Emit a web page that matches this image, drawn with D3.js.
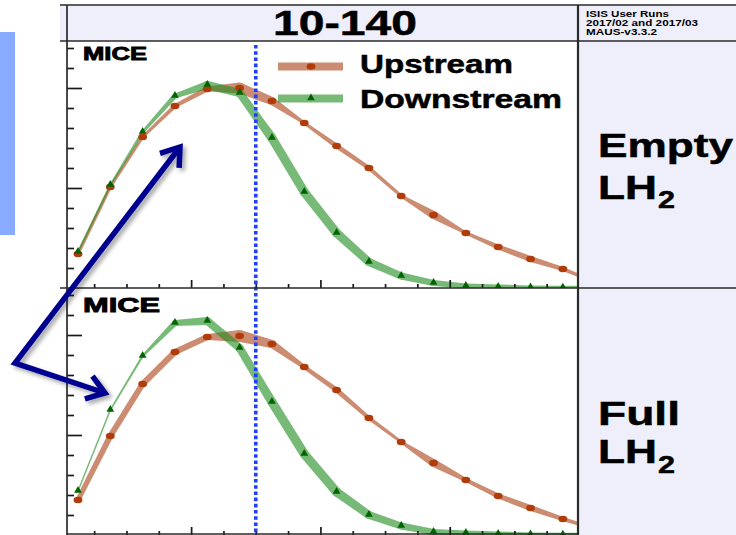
<!DOCTYPE html>
<html>
<head>
<meta charset="utf-8">
<script src="https://cdn.jsdelivr.net/npm/d3@7/dist/d3.min.js"></script>
<style>
  html, body { margin: 0; padding: 0; background: #ffffff; }
  svg { display: block; }
  text { font-family: "Liberation Sans", Arial, Helvetica, sans-serif; font-weight: bold; fill: #000; }
</style>
</head>
<body>
<svg id="chart" width="736" height="535"></svg>
<script>
// ---------------- data ----------------
// amplitude bin centres (mm), 5 mm bins
const binCentres = [2.5, 7.5, 12.5, 17.5, 22.5, 27.5, 32.5, 37.5, 42.5, 47.5, 52.5, 57.5, 62.5, 67.5, 72.5, 77.5, 82.5];

// empty absorber
const emptyUpstream      = [0.34, 1.01, 1.51, 1.82, 1.99, 2.00, 1.87, 1.65, 1.42, 1.20, 0.92, 0.73, 0.55, 0.41, 0.29, 0.19, 0.06];
const emptyUpstreamErr   = [0.015, 0.015, 0.015, 0.02, 0.025, 0.055, 0.04, 0.015, 0.025, 0.02, 0.015, 0.04, 0.015, 0.025, 0.03, 0.02, 0.015];
const emptyDownstream    = [0.36, 1.03, 1.56, 1.92, 2.03, 1.95, 1.50, 0.96, 0.55, 0.26, 0.12, 0.05, 0.02, 0.01, 0.005, 0.003, 0.002];
const emptyDownstreamErr = [0.01, 0.01, 0.015, 0.025, 0.04, 0.04, 0.045, 0.045, 0.045, 0.04, 0.035, 0.03, 0.025, 0.025, 0.02, 0.02, 0.02];

// full absorber
const fullUpstream       = [0.35, 0.99, 1.51, 1.83, 1.98, 1.99, 1.91, 1.68, 1.45, 1.17, 0.93, 0.72, 0.55, 0.39, 0.27, 0.16, 0.06];
const fullUpstreamErr    = [0.025, 0.03, 0.03, 0.03, 0.03, 0.06, 0.04, 0.02, 0.025, 0.02, 0.015, 0.04, 0.02, 0.025, 0.03, 0.02, 0.015];
const fullDownstream     = [0.44, 1.25, 1.79, 2.12, 2.14, 1.87, 1.33, 0.81, 0.43, 0.20, 0.09, 0.03, 0.02, 0.01, 0.005, 0.002, 0.001];
const fullDownstreamErr  = [0.007, 0.008, 0.012, 0.03, 0.04, 0.04, 0.045, 0.045, 0.045, 0.04, 0.035, 0.03, 0.025, 0.025, 0.02, 0.02, 0.02];

const xMinorTicks = [5, 10, 15, 25, 30, 35, 45, 50, 55, 65, 70, 75];
const xMajorTicks = [20, 40, 60];
const yMinorTicks = [0.2, 0.4, 0.6, 0.8, 1.2, 1.4, 1.6, 1.8, 2.2, 2.4];
const yMajorTicks = [1, 2];
const amplitudeCut = 30;

const settingName = "10-140";
const runInfo = ["ISIS User Runs", "2017/02 and 2017/03", "MAUS-v3.3.2"];
const seriesNames = ["Upstream", "Downstream"];
const experiment = "MICE";

// ---------------- layout ----------------
const W = 736, H = 535;
const frameLeft = 60, plotLeft = 67, plotRight = 578;
const headerTop = 5, headerBottom = 41, panelHeight = 247;
const lavender = "#efeffb";
const upColour = "rgb(170,65,20)", downColour = "rgb(30,140,30)";
const upMarker = "#b03c0a", downMarker = "#006400";

const svg = d3.select("#chart");
const defs = svg.append("defs");

const x = d3.scaleLinear().domain([0.8, 80]).range([plotLeft, 579]);

const panels = [
  { top: headerBottom, up: emptyUpstream, upErr: emptyUpstreamErr, down: emptyDownstream, downErr: emptyDownstreamErr, target: "Empty" },
  { top: headerBottom + panelHeight, up: fullUpstream, upErr: fullUpstreamErr, down: fullDownstream, downErr: fullDownstreamErr, target: "Full" }
];

// backgrounds
svg.append("rect").attr("x", frameLeft).attr("y", headerTop).attr("width", W - frameLeft).attr("height", headerBottom - headerTop).attr("fill", lavender);
svg.append("rect").attr("x", plotRight).attr("y", headerBottom).attr("width", W - plotRight).attr("height", H - headerBottom).attr("fill", lavender);
svg.append("rect").attr("x", 0).attr("y", 32).attr("width", 15).attr("height", 203).attr("fill", "#88aaff");

// variable-width ribbon pieces: one quad per segment plus round joints
function ribbonPieces(pts) {
  const pieces = [];
  for (let i = 0; i < pts.length - 1; i++) {
    const a = pts[i], b = pts[i + 1];
    const dx = b.x - a.x, dy = b.y - a.y, L = Math.hypot(dx, dy) || 1;
    const nx = -dy / L, ny = dx / L;
    pieces.push(`M${a.x + nx * a.w},${a.y + ny * a.w}L${b.x + nx * b.w},${b.y + ny * b.w}L${b.x - nx * b.w},${b.y - ny * b.w}L${a.x - nx * a.w},${a.y - ny * a.w}Z`);
  }
  for (let i = 1; i < pts.length - 1; i++) {
    const p = pts[i];
    pieces.push(`M${p.x - p.w},${p.y}a${p.w},${p.w} 0 1,0 ${2 * p.w},0a${p.w},${p.w} 0 1,0 ${-2 * p.w},0Z`);
  }
  return pieces;
}

panels.forEach((p, k) => {
  const bottom = p.top + panelHeight;
  const y = d3.scaleLinear().domain([0, 2.47]).range([bottom, p.top]);
  p.y = y; p.bottom = bottom;

  const clipId = "clip" + k;
  defs.append("clipPath").attr("id", clipId).append("rect")
    .attr("x", plotLeft).attr("y", p.top).attr("width", plotRight - plotLeft).attr("height", panelHeight);

  const g = svg.append("g").attr("clip-path", `url(#${clipId})`);

  const series = [
    { vals: p.up, err: p.upErr, colour: upColour },
    { vals: p.down, err: p.downErr, colour: downColour }
  ];
  series.forEach(s => {
    const pts = binCentres.map((b, i) => ({ x: x(b), y: y(s.vals[i]), w: Math.abs(y(s.err[i]) - y(0)) }));
    g.append("g").attr("opacity", 0.6)
      .selectAll("path").data(ribbonPieces(pts)).join("path")
      .attr("d", d => d).attr("fill", s.colour);
  });

  g.append("g").selectAll("ellipse").data(binCentres.map((b, i) => [b, p.up[i]])).join("ellipse")
    .attr("cx", d => x(d[0])).attr("cy", d => y(d[1])).attr("rx", 4.4).attr("ry", 3.3).attr("fill", upMarker);

  const tri = d3.symbol(d3.symbolTriangle, 26);
  g.append("g").selectAll("path").data(binCentres.map((b, i) => [b, p.down[i]])).join("path")
    .attr("transform", d => `translate(${x(d[0])},${y(d[1]) - 0.5})`).attr("d", tri).attr("fill", downMarker);

  // axes (inward ticks, no labels)
  const axG = svg.append("g").attr("color", "#1a1a1a");
  axG.append("g").attr("transform", `translate(${plotLeft},0)`)
    .call(d3.axisRight(y).tickValues(yMinorTicks).tickSize(7).tickFormat(""));
  axG.append("g").attr("transform", `translate(${plotLeft},0)`)
    .call(d3.axisRight(y).tickValues(yMajorTicks).tickSize(15).tickFormat(""));
  axG.append("g").attr("transform", `translate(0,${bottom})`)
    .call(d3.axisTop(x).tickValues(xMinorTicks).tickSize(4).tickFormat(""));
  axG.append("g").attr("transform", `translate(0,${bottom})`)
    .call(d3.axisTop(x).tickValues(xMajorTicks).tickSize(8).tickFormat(""));
  axG.selectAll(".domain").remove();
  axG.selectAll(".tick line").attr("stroke-width", 1.7);
});

// amplitude cut
svg.append("line")
  .attr("x1", x(amplitudeCut)).attr("x2", x(amplitudeCut)).attr("y1", 45).attr("y2", H)
  .attr("stroke", "#2040ff").attr("stroke-width", 3.6).attr("stroke-dasharray", "3.6,2.6");

// frame
const frame = svg.append("g").attr("stroke", "#2a2a2a").attr("stroke-width", 1.7);
frame.append("line").attr("x1", frameLeft).attr("x2", W).attr("y1", headerTop).attr("y2", headerTop);
frame.append("line").attr("x1", frameLeft).attr("x2", W).attr("y1", headerBottom).attr("y2", headerBottom);
frame.append("line").attr("x1", frameLeft).attr("x2", W).attr("y1", panels[1].top).attr("y2", panels[1].top);
frame.append("line").attr("x1", plotLeft).attr("x2", plotLeft).attr("y1", headerTop).attr("y2", H);
frame.append("line").attr("x1", plotRight).attr("x2", plotRight).attr("y1", headerTop).attr("y2", H).attr("stroke-width", 2.2);
frame.append("line").attr("x1", plotLeft).attr("x2", plotRight).attr("y1", H - 1).attr("y2", H - 1);

// text placed at a left edge and stretched to a given width
function label(str, xLeft, baseline, size, width, extra) {
  const g = svg.append("g");
  const t = g.append("text").attr("font-size", size).text(str);
  if (extra) extra(t);
  const natural = t.node().getComputedTextLength();
  const sx = width / natural;
  g.attr("transform", `translate(${xLeft},${baseline}) scale(${sx},1)`);
  return t;
}
const heavy = t => t.attr("stroke", "#000").attr("stroke-width", 0.5);
const heavier = t => t.attr("stroke", "#000").attr("stroke-width", 0.9);

label(settingName, 273, 35, 35, 144, heavy);
label(runInfo[0], 586, 16.5, 9, 83);
label(runInfo[1], 586, 25.5, 9, 112);
label(runInfo[2], 586, 34.5, 9, 71);

label(experiment, 83, 60, 19, 64, heavier);
label(experiment, 83, 312, 20.5, 77, heavier);

label(panels[0].target, 598, 157, 33.5, 135, heavy);
label("LH", 598, 199, 34, 59, heavy);
label("2", 658, 208, 24, 17, heavy);
label(panels[1].target, 598, 425, 33, 82, heavy);
label("LH", 598, 463, 34, 59, heavy);
label("2", 658, 473, 24, 17, heavy);

// legend
const legendRows = [
  { name: seriesNames[0], colour: upColour, y: 66.5, baseline: 73, width: 153 },
  { name: seriesNames[1], colour: downColour, y: 98.5, baseline: 107.5, width: 202 }
];
legendRows.forEach((r, i) => {
  svg.append("line").attr("x1", 278).attr("x2", 343).attr("y1", r.y).attr("y2", r.y)
    .attr("stroke", r.colour).attr("stroke-width", 8).attr("opacity", 0.6);
  if (i === 0) {
    svg.append("ellipse").attr("cx", 311).attr("cy", r.y).attr("rx", 4.4).attr("ry", 3.3).attr("fill", upMarker);
  } else {
    svg.append("path").attr("transform", `translate(311,${r.y - 0.5})`).attr("d", d3.symbol(d3.symbolTriangle, 26)).attr("fill", downMarker);
  }
  label(r.name, 360, r.baseline, 25, r.width, heavy);
});

// annotation arrow pointing at both rising edges
const shadow = defs.append("filter").attr("id", "shadow").attr("x", "-20%").attr("y", "-20%").attr("width", "140%").attr("height", "140%");
shadow.append("feDropShadow").attr("dx", 3).attr("dy", 3).attr("stdDeviation", 2)
  .attr("flood-color", "#000").attr("flood-opacity", 0.35);

const arrowPts = [[180, 147], [15, 363], [105, 393]];
function head(tip, from, len, ang) {
  const back = Math.atan2(from[1] - tip[1], from[0] - tip[0]);
  const a1 = back + ang, a2 = back - ang;
  return `M${tip[0] + len * Math.cos(a1)},${tip[1] + len * Math.sin(a1)}L${tip[0]},${tip[1]}L${tip[0] + len * Math.cos(a2)},${tip[1] + len * Math.sin(a2)}`;
}
const arrowG = svg.append("g").attr("filter", "url(#shadow)")
  .attr("fill", "none").attr("stroke", "#000090").attr("stroke-width", 5.5).attr("stroke-linejoin", "miter");
arrowG.append("path").attr("d", d3.line()(arrowPts));
arrowG.append("path").attr("d", head(arrowPts[0], arrowPts[1], 21, 0.61));
arrowG.append("path").attr("d", head(arrowPts[2], arrowPts[1], 21, 0.61));
</script>
</body>
</html>
